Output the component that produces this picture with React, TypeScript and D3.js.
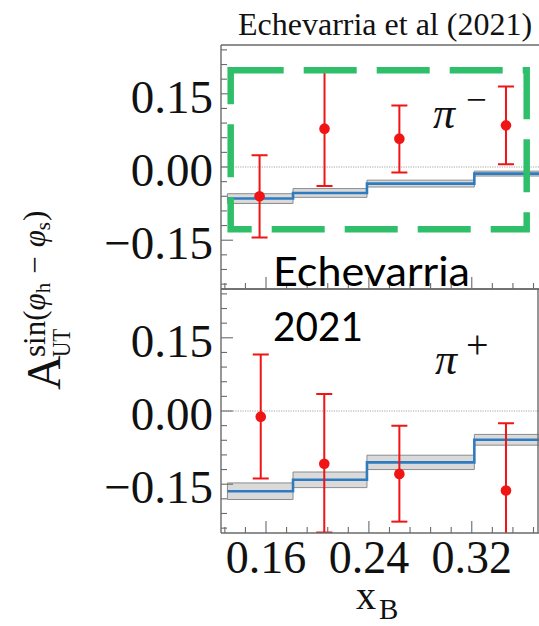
import React from 'react';
import * as d3 from 'd3';

// ---------- data ----------
const binEdges = [0.130, 0.181, 0.2385, 0.322, 0.40];
const xTickMajor = [0.16, 0.24, 0.32];
const yTickMajor = [-0.15, 0.0, 0.15];
const yTickLabels = ['\u22120.15', '0.00', '0.15'];
const xTickLabels = ['0.16', '0.24', '0.32'];

// pi- (top panel)
const piMinusX = [0.155, 0.2055, 0.2637, 0.3466];
const piMinusY = [-0.060, 0.0786, 0.0581, 0.0853];
const piMinusHi = [0.024, 0.1964, 0.1262, 0.165];
const piMinusLo = [-0.1445, -0.0389, -0.0115, 0.0055];
const piMinusFit = [-0.0647, -0.0532, -0.034, -0.0135];
const piMinusBand = [0.010, 0.009, 0.007, 0.005];

// pi+ (bottom panel)
const piPlusX = [0.1559, 0.2053, 0.2637, 0.3466];
const piPlusY = [-0.0116, -0.108, -0.1289, -0.163];
const piPlusHi = [0.116, 0.0346, -0.030, -0.025];
const piPlusLo = [-0.1385, -0.249, -0.2267, -0.30];
const piPlusFit = [-0.1644, -0.141, -0.1053, -0.059];
const piPlusBand = [0.017, 0.016, 0.0147, 0.011];

// ---------- layout ----------
const W = 539, H = 626;
const L = 221;
const x = d3.scaleLinear().domain([0.125, 0.375]).range([L, 542.5]);
const SERIF = '"Liberation Serif", "Times New Roman", serif';
const SPINE = '#6a6a6a';

function Panel({ id, top, bottom, px, py, hi, lo, fit, band, rightSpine }: any) {
  const y = d3.scaleLinear().domain([-0.25, 0.25]).range([bottom, top]);
  const stepPts = binEdges.map((e, i) => ({ x: e, v: fit[Math.min(i, fit.length - 1)], b: band[Math.min(i, band.length - 1)] }));
  const area = d3.area<any>().x(d => x(d.x)).y0(d => y(d.v - d.b)).y1(d => y(d.v + d.b)).curve(d3.curveStepAfter);
  const line = d3.line<any>().x(d => x(d.x)).y(d => y(d.v)).curve(d3.curveStepAfter);
  const xRight = 542.5;
  const yMinor = d3.range(-0.24, 0.2401, 0.03).filter(v => !yTickMajor.some(m => Math.abs(m - v) < 1e-6));
  const xMinor = d3.range(0.128, 0.375, 0.016).filter(v => !xTickMajor.some(m => Math.abs(m - v) < 1e-6));
  return (
    <g>
      <defs>
        <clipPath id={id}>
          <rect x={L} y={top} width={xRight - L} height={bottom - top} />
        </clipPath>
      </defs>
      <g clipPath={`url(#${id})`}>
        <line x1={L} x2={xRight} y1={y(0)} y2={y(0)} stroke="#9a9a9a" strokeWidth={0.9} strokeDasharray="1.2,1.2" />
        <path d={area(stepPts) || ''} fill="#d4d4d4" fillOpacity={0.85} stroke="#8c8c8c" strokeWidth={1} />
        <path d={line(stepPts) || ''} fill="none" stroke="#2f7bbf" strokeWidth={2.6} />
        {px.map((xv: number, i: number) => (
          <g key={i} stroke="#f01414" strokeWidth={2}>
            <line x1={x(xv)} x2={x(xv)} y1={y(hi[i])} y2={y(lo[i])} />
            <line x1={x(xv) - 8} x2={x(xv) + 8} y1={y(hi[i])} y2={y(hi[i])} />
            <line x1={x(xv) - 8} x2={x(xv) + 8} y1={y(lo[i])} y2={y(lo[i])} />
            <circle cx={x(xv)} cy={y(py[i])} r={5.3} fill="#f01414" stroke="none" />
          </g>
        ))}
      </g>
      {/* ticks */}
      <g stroke={SPINE} strokeWidth={1.1}>
        {yTickMajor.map((v, i) => <line key={'ym' + i} x1={L} x2={L + 12} y1={y(v)} y2={y(v)} />)}
        {yMinor.map((v, i) => <line key={'yn' + i} x1={L} x2={L + 6} y1={y(v)} y2={y(v)} />)}
        {xTickMajor.map((v, i) => <line key={'xm' + i} x1={x(v)} x2={x(v)} y1={bottom} y2={bottom - 12} />)}
        {xMinor.map((v, i) => <line key={'xn' + i} x1={x(v)} x2={x(v)} y1={bottom} y2={bottom - 6} />)}
      </g>
      {/* spines */}
      <g stroke={SPINE} strokeWidth={1.4} fill="none">
        <line x1={L} x2={L} y1={top} y2={bottom} />
        <line x1={L} x2={xRight} y1={top} y2={top} />
        <line x1={L} x2={xRight} y1={bottom} y2={bottom} />
        {rightSpine ? <line x1={538} x2={538} y1={top} y2={bottom} /> : null}
      </g>
      {/* y tick labels */}
      {yTickMajor.map((v, i) => (
        <text key={'yl' + i} x={213} y={y(v) + 19} textAnchor="end" fontFamily={SERIF} fontSize={47} fill="#111">{yTickLabels[i]}</text>
      ))}
    </g>
  );
}

export default function App() {
  return (
    <svg width={W} height={H} style={{ position: 'absolute', left: 0, top: 0, background: '#fff' }}>
      <rect x={0} y={0} width={W} height={H} fill="#fff" />
      <text x={238} y={35} fontFamily={SERIF} fontSize={32} fill="#111">Echevarria et al (2021)</text>

      <Panel id="clipTop" top={45} bottom={289} px={piMinusX} py={piMinusY} hi={piMinusHi} lo={piMinusLo} fit={piMinusFit} band={piMinusBand} rightSpine={false} />
      <Panel id="clipBot" top={289} bottom={533} px={piPlusX} py={piPlusY} hi={piPlusHi} lo={piPlusLo} fit={piPlusFit} band={piPlusBand} rightSpine={true} />

      {/* x tick labels */}
      {xTickMajor.map((v, i) => (
        <text key={'xl' + i} x={x(v)} y={573} textAnchor="middle" fontFamily={SERIF} fontSize={46} fill="#111">{xTickLabels[i]}</text>
      ))}

      {/* x axis label */}
      <text x={356} y={609} fontFamily={SERIF} fontSize={40} fill="#111">x</text>
      <text x={379} y={619} fontFamily={SERIF} fontSize={29} fill="#111">B</text>

      {/* y axis label */}
      <g transform="translate(60,390) rotate(-90)" fontFamily={SERIF} fill="#111">
        <text x={0} y={0} fontSize={48}>A</text>
        <text x={33} y={10} fontSize={25} textLength={28} lengthAdjust="spacingAndGlyphs">UT</text>
        <text x={33} y={-15} fontSize={31}>
          <tspan>sin(</tspan>
          <tspan fontStyle="italic">{'\u03c6'}</tspan>
          <tspan fontSize={21} dy={5}>h</tspan>
          <tspan dy={-5} dx={9}>{'\u2212'}</tspan>
          <tspan dx={9} fontStyle="italic">{'\u03c6'}</tspan>
          <tspan fontSize={21} dy={5}>s</tspan>
          <tspan dy={-5} dx={1}>)</tspan>
        </text>
      </g>

      {/* pi labels */}
      <text x={433} y={128} fontFamily={SERIF} fontStyle="italic" fontSize={44} fill="#111">{'\u03c0'}</text>
      <text x={466} y={112} fontFamily={SERIF} fontSize={37} fill="#111">{'\u2212'}</text>
      <text x={435} y={374} fontFamily={SERIF} fontStyle="italic" fontSize={44} fill="#111">{'\u03c0'}</text>
      <text x={466} y={358} fontFamily={SERIF} fontSize={40} fill="#111">+</text>

      {/* green dashed annotation box */}
      <rect x={230.7} y={70.3} width={296} height={159} fill="none" stroke="#2fbf6b" strokeWidth={6.5} strokeDasharray="53 20" />

      {/* overlay annotation text */}
      <text x={273} y={286} fontFamily='Lato, "Open Sans", sans-serif' fontSize={41} fill="#000" textLength={197} lengthAdjust="spacingAndGlyphs">Echevarria</text>
      <text x={273} y={341} fontFamily='Lato, "Open Sans", sans-serif' fontSize={41} fill="#000" textLength={90} lengthAdjust="spacingAndGlyphs">2021</text>
    </svg>
  );
}
